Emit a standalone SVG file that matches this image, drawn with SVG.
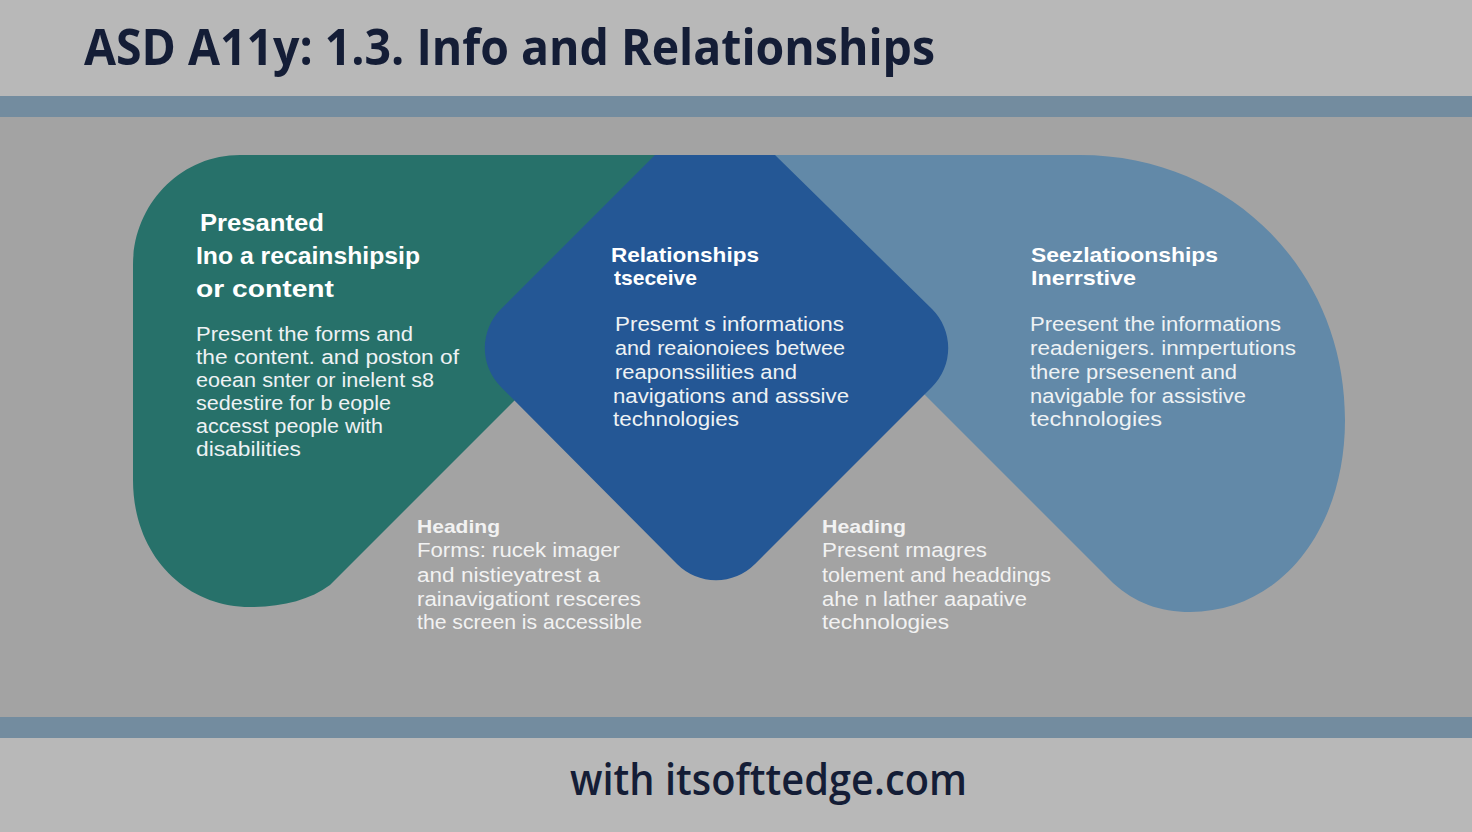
<svg xmlns="http://www.w3.org/2000/svg" width="1472" height="832" viewBox="0 0 1472 832">
<style>
.title{font-family:"Open Sans","Liberation Sans",sans-serif;font-weight:700;fill:#141d36}
.foot{font-family:"Open Sans","Liberation Sans",sans-serif;font-weight:600;fill:#141d36}
.h{font-family:"Liberation Sans","Open Sans",sans-serif;font-weight:700;fill:#ffffff}
.b{font-family:"Liberation Sans","Open Sans",sans-serif;font-weight:400;fill:#eef2f4;font-size:20px}
.hs{font-family:"Liberation Sans","Open Sans",sans-serif;font-weight:700;fill:#f2f2f2;font-size:19px}
.bs{font-family:"Liberation Sans","Open Sans",sans-serif;font-weight:400;fill:#f2f2f2;font-size:20px}
</style>
<rect x="0" y="0" width="1472" height="832" fill="#a3a3a3"/>
<rect x="0" y="0" width="1472" height="96" fill="#b8b8b8"/>
<rect x="0" y="96" width="1472" height="21" fill="#738c9f"/>
<rect x="0" y="717" width="1472" height="21" fill="#738c9f"/>
<rect x="0" y="738" width="1472" height="94" fill="#b8b8b8"/>
<text class="title" x="84" y="65" font-size="50" textLength="851" lengthAdjust="spacingAndGlyphs">ASD A11y: 1.3. Info and Relationships</text>

<g id="node-green">
<path d="M240,155 L700,155 L600,350 L560,355 L330,585 C310,600 282,607 250,607 C185,607 133,555 133,480 L133,265 C133,205 180,155 240,155 Z" fill="#27716a"/>
<text class="h" font-size="24" x="200" y="231" textLength="124" lengthAdjust="spacingAndGlyphs">Presanted</text>
<text class="h" font-size="24" x="196" y="264" textLength="224" lengthAdjust="spacingAndGlyphs">Ino a recainshipsip</text>
<text class="h" font-size="24" x="196" y="297" textLength="138" lengthAdjust="spacingAndGlyphs">or content</text>
<text class="b" x="196" y="341" textLength="217" lengthAdjust="spacingAndGlyphs">Present the forms and</text>
<text class="b" x="196" y="364" textLength="263" lengthAdjust="spacingAndGlyphs">the content. and poston of</text>
<text class="b" x="196" y="387" textLength="238" lengthAdjust="spacingAndGlyphs">eoean snter or inelent s8</text>
<text class="b" x="196" y="410" textLength="195" lengthAdjust="spacingAndGlyphs">sedestire for b eople</text>
<text class="b" x="196" y="433" textLength="187" lengthAdjust="spacingAndGlyphs">accesst people with</text>
<text class="b" x="196" y="456" textLength="105" lengthAdjust="spacingAndGlyphs">disabilities</text>
</g>

<g id="node-lightblue">
<path d="M740,155 L1080,155 C1230,155 1345,270 1345,420 C1345,530 1280,612 1190,612 C1160,612 1135,603 1113,583 L900,370 L800,300 Z" fill="#6289a8"/>
<text class="h" font-size="20.5" x="1031" y="262" textLength="187" lengthAdjust="spacingAndGlyphs">Seezlatioonships</text>
<text class="h" font-size="20.5" x="1031" y="285" textLength="105" lengthAdjust="spacingAndGlyphs">Inerrstive</text>
<text class="b" x="1030" y="331" textLength="251" lengthAdjust="spacingAndGlyphs">Preesent the  informations</text>
<text class="b" x="1030" y="355" textLength="266" lengthAdjust="spacingAndGlyphs">readenigers. inmpertutions</text>
<text class="b" x="1030" y="379" textLength="207" lengthAdjust="spacingAndGlyphs">there prsesenent and</text>
<text class="b" x="1030" y="403" textLength="216" lengthAdjust="spacingAndGlyphs">navigable for assistive</text>
<text class="b" x="1030" y="426" textLength="132" lengthAdjust="spacingAndGlyphs">technologies</text>
</g>

<g id="node-blue">
<path d="M655,155 L775,155 L932,309 A55,55 0 0 1 932,387 L755,564 A55,55 0 0 1 677,564 L501,387 A55,55 0 0 1 501,309 Z" fill="#245795"/>
<text class="h" font-size="20.5" x="611" y="262" textLength="148" lengthAdjust="spacingAndGlyphs">Relationships</text>
<text class="h" font-size="20.5" x="614" y="285" textLength="83" lengthAdjust="spacingAndGlyphs">tseceive</text>
<text class="b" x="615" y="331" textLength="229" lengthAdjust="spacingAndGlyphs">Presemt s informations</text>
<text class="b" x="615" y="355" textLength="230" lengthAdjust="spacingAndGlyphs">and reaionoiees betwee</text>
<text class="b" x="615" y="379" textLength="182" lengthAdjust="spacingAndGlyphs">reaponssilities and</text>
<text class="b" x="613" y="403" textLength="236" lengthAdjust="spacingAndGlyphs">navigations and asssive</text>
<text class="b" x="613" y="426" textLength="126" lengthAdjust="spacingAndGlyphs">technologies</text>
</g>

<g id="node-heading-left">
<text class="hs" x="417" y="533" textLength="83" lengthAdjust="spacingAndGlyphs">Heading</text>
<text class="bs" x="417" y="557" textLength="203" lengthAdjust="spacingAndGlyphs">Forms: rucek imager</text>
<text class="bs" x="417" y="582" textLength="183" lengthAdjust="spacingAndGlyphs">and nistieyatrest a</text>
<text class="bs" x="417" y="606" textLength="224" lengthAdjust="spacingAndGlyphs">rainavigationt resceres</text>
<text class="bs" x="417" y="629" textLength="225" lengthAdjust="spacingAndGlyphs">the screen is accessible</text>
</g>

<g id="node-heading-right">
<text class="hs" x="822" y="533" textLength="84" lengthAdjust="spacingAndGlyphs">Heading</text>
<text class="bs" x="822" y="557" textLength="165" lengthAdjust="spacingAndGlyphs">Present rmagres</text>
<text class="bs" x="822" y="582" textLength="229" lengthAdjust="spacingAndGlyphs">tolement and headdings</text>
<text class="bs" x="822" y="606" textLength="205" lengthAdjust="spacingAndGlyphs">ahe n lather aapative</text>
<text class="bs" x="822" y="629" textLength="127" lengthAdjust="spacingAndGlyphs">technologies</text>
</g>

<g id="connectors"></g>

<text class="foot" x="570" y="795" font-size="44" textLength="397" lengthAdjust="spacingAndGlyphs">with itsofttedge.com</text>
</svg>
